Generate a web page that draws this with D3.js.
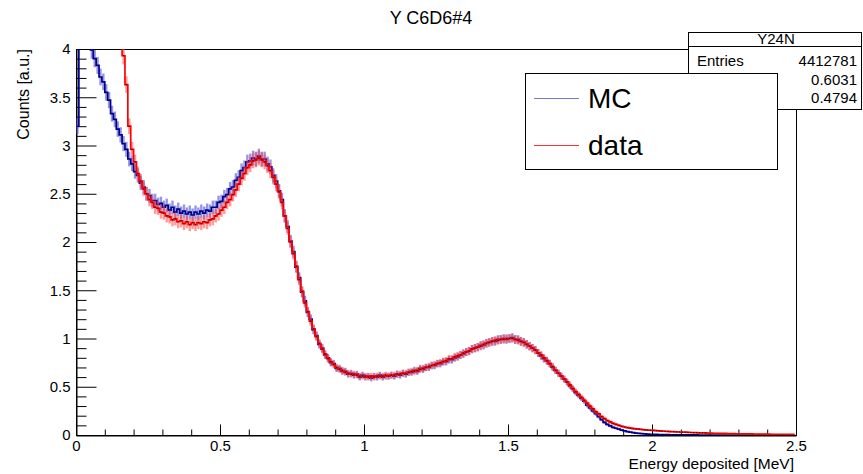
<!DOCTYPE html>
<html>
<head>
<meta charset="utf-8">
<script src="https://cdn.jsdelivr.net/npm/d3@7"></script>
<style>
  body { margin: 0; background: #fff; }
  svg { display: block; font-family: "Liberation Sans", Arial, Helvetica, sans-serif; }
</style>
</head>
<body>
<div id="canvas"></div>
<script>
// binning of both histograms: 250 bins of 0.01 MeV from 0 to 2.5
let binStart = 0
let binWidth = 0.01

// MC counts [a.u.] per bin
let mcValues = [
    3.20, 4.30, 4.38, 4.28, 4.12, 3.99, 3.90, 3.83, 3.71, 3.66,
    3.55, 3.47, 3.33, 3.27, 3.17, 3.11, 3.02, 2.96, 2.86, 2.81,
    2.73, 2.69, 2.61, 2.57, 2.50, 2.48, 2.43, 2.43, 2.39, 2.40,
    2.36, 2.38, 2.33, 2.36, 2.31, 2.34, 2.30, 2.32, 2.29, 2.31,
    2.28, 2.31, 2.29, 2.32, 2.30, 2.33, 2.32, 2.36, 2.36, 2.41,
    2.42, 2.47, 2.49, 2.55, 2.57, 2.64, 2.67, 2.74, 2.77, 2.83,
    2.84, 2.87, 2.86, 2.89, 2.86, 2.86, 2.81, 2.78, 2.69, 2.63,
    2.53, 2.44, 2.27, 2.16, 2.01, 1.90, 1.74, 1.63, 1.48, 1.39,
    1.27, 1.20, 1.09, 1.03, 0.94, 0.90, 0.83, 0.80, 0.75, 0.74,
    0.69, 0.69, 0.66, 0.66, 0.63, 0.64, 0.62, 0.63, 0.60, 0.62,
    0.60, 0.61, 0.59, 0.61, 0.60, 0.62, 0.60, 0.61, 0.61, 0.62,
    0.61, 0.63, 0.62, 0.64, 0.63, 0.65, 0.65, 0.67, 0.66, 0.69,
    0.68, 0.70, 0.70, 0.72, 0.72, 0.74, 0.74, 0.76, 0.76, 0.78,
    0.78, 0.80, 0.81, 0.83, 0.84, 0.86, 0.87, 0.89, 0.90, 0.91,
    0.93, 0.93, 0.95, 0.96, 0.97, 0.97, 0.99, 0.99, 1.00, 0.99,
    1.00, 1.01, 0.99, 0.99, 0.97, 0.96, 0.94, 0.92, 0.90, 0.88,
    0.85, 0.82, 0.79, 0.77, 0.74, 0.70, 0.67, 0.64, 0.61, 0.58,
    0.55, 0.51, 0.48, 0.44, 0.41, 0.38, 0.35, 0.31, 0.28, 0.25,
    0.22, 0.19, 0.16, 0.13, 0.11, 0.095, 0.08, 0.07, 0.06, 0.05,
    0.043, 0.036, 0.030, 0.025, 0.020, 0.017, 0.014, 0.012, 0.010, 0.008,
    0.007, 0.006, 0.005, 0.004, 0.003, 0.003, 0.002, 0.002, 0.002, 0.001,
    0.001, 0.001, 0.001, 0.001, 0.001, 0.001, 0, 0, 0, 0,
    0, 0, 0, 0, 0, 0, 0, 0, 0, 0,
    0, 0, 0, 0, 0, 0, 0, 0, 0, 0,
    0, 0, 0, 0, 0, 0, 0, 0, 0, 0
]

// measured data counts [a.u.] per bin (first bins are off scale)
let dataValues = [
    12.5, 11.8, 11.0, 10.2, 9.5, 8.8, 8.1, 7.5, 6.9, 6.3,
    5.8, 5.35, 4.95, 4.65, 4.4, 4.18, 3.93, 3.63, 3.20, 2.96,
    2.83, 2.71, 2.63, 2.55, 2.50, 2.44, 2.41, 2.36, 2.35, 2.31,
    2.30, 2.27, 2.26, 2.23, 2.24, 2.21, 2.22, 2.19, 2.21, 2.18,
    2.20, 2.18, 2.20, 2.19, 2.21, 2.20, 2.23, 2.24, 2.27, 2.29,
    2.33, 2.36, 2.41, 2.44, 2.49, 2.54, 2.60, 2.66, 2.71, 2.77,
    2.80, 2.84, 2.85, 2.87, 2.85, 2.83, 2.79, 2.74, 2.67, 2.60,
    2.52, 2.41, 2.27, 2.14, 2.00, 1.88, 1.75, 1.61, 1.49, 1.37,
    1.28, 1.18, 1.10, 1.02, 0.95, 0.89, 0.84, 0.79, 0.76, 0.73,
    0.70, 0.68, 0.67, 0.65, 0.64, 0.63, 0.63, 0.62, 0.61, 0.61,
    0.61, 0.60, 0.61, 0.60, 0.61, 0.61, 0.61, 0.62, 0.61, 0.62,
    0.62, 0.63, 0.63, 0.64, 0.64, 0.65, 0.66, 0.66, 0.67, 0.68,
    0.69, 0.70, 0.71, 0.72, 0.73, 0.74, 0.75, 0.76, 0.77, 0.79,
    0.79, 0.81, 0.82, 0.83, 0.85, 0.86, 0.87, 0.89, 0.90, 0.91,
    0.92, 0.94, 0.95, 0.96, 0.97, 0.98, 0.98, 0.99, 0.99, 1.00,
    1.00, 1.00, 0.99, 0.98, 0.97, 0.96, 0.94, 0.92, 0.90, 0.88,
    0.85, 0.83, 0.80, 0.77, 0.74, 0.71, 0.67, 0.64, 0.61, 0.58,
    0.55, 0.52, 0.48, 0.45, 0.42, 0.39, 0.36, 0.33, 0.30, 0.27,
    0.24, 0.22, 0.19, 0.17, 0.15, 0.135, 0.12, 0.11, 0.10, 0.09,
    0.083, 0.077, 0.072, 0.067, 0.063, 0.060, 0.057, 0.054, 0.051, 0.049,
    0.047, 0.045, 0.043, 0.041, 0.039, 0.037, 0.035, 0.034, 0.032, 0.031,
    0.030, 0.029, 0.027, 0.026, 0.025, 0.024, 0.023, 0.022, 0.021, 0.020,
    0.019, 0.018, 0.018, 0.017, 0.016, 0.016, 0.015, 0.014, 0.014, 0.013,
    0.013, 0.012, 0.012, 0.011, 0.011, 0.010, 0.010, 0.010, 0.009, 0.009,
    0.009, 0.008, 0.008, 0.008, 0.008, 0.007, 0.007, 0.007, 0.007, 0.007
]

// axis ticks
let xMajor = [0, 0.5, 1, 1.5, 2, 2.5]
let yMajor = [0, 0.5, 1, 1.5, 2, 2.5, 3, 3.5, 4]

// stats box
let statsName = 'Y24N'
let statsLabels = ['Entries', 'Mean', 'Std Dev']
let statsValues = ['4412781', '0.6031', '0.4794']

let title = 'Y C6D6#4'
let xTitle = 'Energy deposited [MeV]'
let yTitle = 'Counts [a.u.]'

let width = 863
let height = 474
let padL = 76, padR = 796, padT = 49, padB = 435

let svg = d3.select('#canvas').append('svg')
    .attr('width', width)
    .attr('height', height)

let x = d3.scaleLinear().domain([0, 2.5]).range([padL, padR])
let y = d3.scaleLinear().domain([0, 4]).range([padB, padT])

// minor ticks every 0.1
let xMinor = d3.range(0, 26).map((i) => i / 10).filter((v) => Math.round(v * 10) % 5 !== 0)
let yMinor = d3.range(0, 41).map((i) => i / 10).filter((v) => Math.round(v * 10) % 5 !== 0)

svg.append('defs').append('clipPath')
    .attr('id', 'plot-clip')
    .append('rect')
    .attr('x', padL)
    .attr('y', padT)
    .attr('width', padR - padL)
    .attr('height', padB - padT)

// frame
svg.append('rect')
    .attr('x', padL + 0.5)
    .attr('y', padT + 0.5)
    .attr('width', padR - padL)
    .attr('height', padB - padT)
    .attr('fill', 'none')
    .attr('stroke', '#000')

let fmt = d3.format('~g')

let yAxis = svg.append('g')
    .attr('transform', 'translate(' + (padL + 0.5) + ',0)')
    .call(d3.axisLeft(y).tickValues(yMajor).tickSize(-20).tickPadding(6).tickFormat(fmt))
yAxis.append('g')
    .call(d3.axisLeft(y).tickValues(yMinor).tickSize(-10).tickFormat(''))
    .select('.domain').remove()

let xAxis = svg.append('g')
    .attr('transform', 'translate(0,' + (padB + 0.5) + ')')
    .call(d3.axisBottom(x).tickValues(xMajor).tickSize(-11).tickPadding(5).tickFormat(fmt))
xAxis.append('g')
    .call(d3.axisBottom(x).tickValues(xMinor).tickSize(-6).tickFormat(''))
    .select('.domain').remove()

svg.selectAll('.tick line').attr('stroke', '#000')
svg.selectAll('.domain').attr('stroke', '#000')
svg.selectAll('.tick text')
    .attr('font-size', 15)
    .attr('font-family', '"Liberation Sans", Arial, sans-serif')
    .attr('fill', '#000')

// histograms
let bins = function (values) {
    return values.map((v, i) => ({
        x: binStart + binWidth * (i + 0.5),
        v: v,
        e: 0.045 * Math.sqrt(v)
    }))
}

let step = d3.line()
    .x((d) => x(d.x))
    .y((d) => y(d.v))
    .curve(d3.curveStep)

let drawHist = function (values, dark, light, dots) {
    let g = svg.append('g').attr('clip-path', 'url(#plot-clip)')
    let d = bins(values)

    g.selectAll('line.err')
        .data(d)
        .enter()
        .append('line')
        .attr('class', 'err')
        .attr('x1', (b) => x(b.x))
        .attr('x2', (b) => x(b.x))
        .attr('y1', (b) => y(b.v - b.e))
        .attr('y2', (b) => y(b.v + b.e))
        .attr('stroke', light)
        .attr('stroke-width', 2.4)

    g.append('path')
        .attr('d', step(d))
        .attr('fill', 'none')
        .attr('stroke', dark)
        .attr('stroke-width', 1.7)

    if (dots) {
        g.selectAll('rect.dot')
            .data(d.filter((b) => b.v > 0.02))
            .enter()
            .append('rect')
            .attr('class', 'dot')
            .attr('x', (b) => x(b.x) - 0.6)
            .attr('y', (b) => y(b.v) - 0.6)
            .attr('width', 1.2)
            .attr('height', 1.2)
            .attr('fill', '#000')
            .attr('opacity', 0.7)
    }
}

drawHist(mcValues, '#00008c', 'rgba(80, 80, 210, 0.6)', false)
drawHist(dataValues, '#ff0000', 'rgba(255, 70, 70, 0.55)', true)

// title
svg.append('text')
    .attr('x', 431)
    .attr('y', 24)
    .attr('text-anchor', 'middle')
    .attr('font-size', 18)
    .text(title)

// axis titles
svg.append('text')
    .attr('x', 794)
    .attr('y', 469)
    .attr('text-anchor', 'end')
    .attr('font-size', 15.5)
    .text(xTitle)

svg.append('text')
    .attr('transform', 'translate(28.5,' + padT + ') rotate(-90)')
    .attr('text-anchor', 'end')
    .attr('font-size', 16)
    .text(yTitle)

// stats box
let stats = svg.append('g')
stats.append('rect')
    .attr('x', 688.5)
    .attr('y', 32.5)
    .attr('width', 173)
    .attr('height', 77)
    .attr('fill', '#fff')
    .attr('stroke', '#000')
stats.append('line')
    .attr('x1', 688.5).attr('x2', 861.5)
    .attr('y1', 46.5).attr('y2', 46.5)
    .attr('stroke', '#000')
stats.append('text')
    .attr('x', 776)
    .attr('y', 44)
    .attr('text-anchor', 'middle')
    .attr('font-size', 15)
    .text(statsName)
stats.selectAll('text.lab')
    .data(statsLabels)
    .enter()
    .append('text')
    .attr('class', 'lab')
    .attr('x', 697)
    .attr('y', (d, i) => 66 + i * 18.5)
    .attr('font-size', 15)
    .text((d) => d)
stats.selectAll('text.val')
    .data(statsValues)
    .enter()
    .append('text')
    .attr('class', 'val')
    .attr('x', 857)
    .attr('y', (d, i) => 66 + i * 18.5)
    .attr('text-anchor', 'end')
    .attr('font-size', 15)
    .text((d) => d)

// legend
let legend = svg.append('g')
legend.append('rect')
    .attr('x', 525.5)
    .attr('y', 73.5)
    .attr('width', 252)
    .attr('height', 96)
    .attr('fill', '#fff')
    .attr('stroke', '#000')

let entries = [
    { label: 'MC', color: '#7878c8', y: 98 },
    { label: 'data', color: '#ff3030', y: 145 }
]
entries.forEach(function (e) {
    legend.append('line')
        .attr('x1', 534).attr('x2', 579)
        .attr('y1', e.y + 0.5).attr('y2', e.y + 0.5)
        .attr('stroke', e.color)
    legend.append('text')
        .attr('x', 588)
        .attr('y', e.y + 9.5)
        .attr('font-size', 28)
        .text(e.label)
})
</script>
</body>
</html>
